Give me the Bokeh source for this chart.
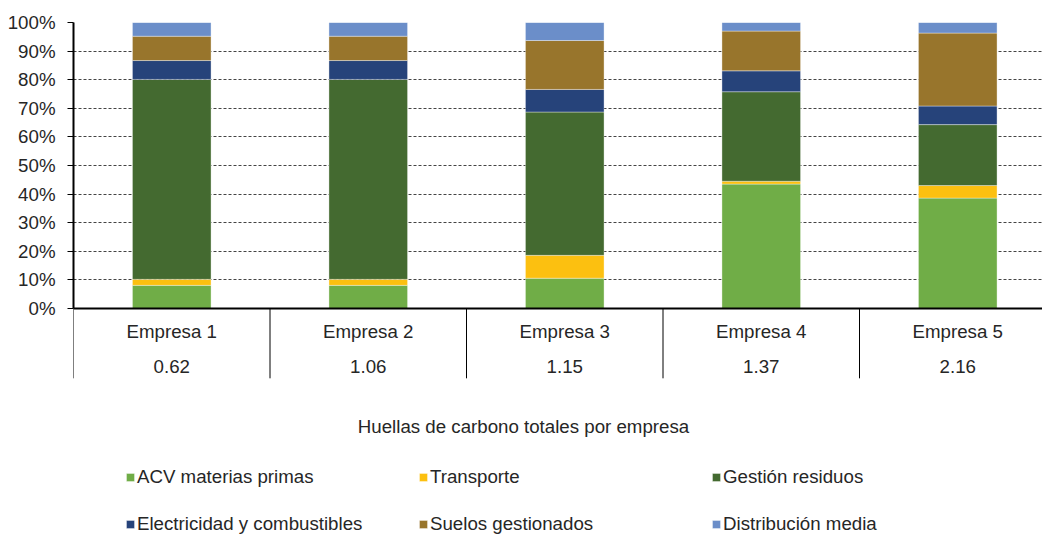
import numpy as np
from bokeh.plotting import figure
from bokeh.models import (ColumnDataSource, FixedTicker, Legend, LegendItem,
                          Span, Label, Range1d)
from bokeh.core.properties import value
from bokeh.embed import file_html
from bokeh.resources import INLINE

# ---------------- data ----------------
categories = ["Empresa 1", "Empresa 2", "Empresa 3", "Empresa 4", "Empresa 5"]
totals = ["0.62", "1.06", "1.15", "1.37", "2.16"]

acv = [8.1, 8.1, 10.6, 43.5, 38.6]
transporte = [2.1, 2.1, 8.0, 1.0, 4.4]
gestion = [69.9, 69.9, 50.1, 31.3, 21.3]
electricidad = [6.6, 6.6, 7.9, 7.3, 6.5]
suelos = [8.5, 8.5, 17.1, 13.9, 25.5]
distribucion = [4.8, 4.8, 6.3, 3.0, 3.7]

series_names = ["ACV materias primas", "Transporte", "Gestión residuos",
                "Electricidad y combustibles", "Suelos gestionados", "Distribución media"]
series_keys = ["acv", "transporte", "gestion", "electricidad", "suelos", "distribucion"]
colors = ["#70AD47", "#FCC010", "#446A30", "#26437A", "#98752C", "#6B8EC9"]

y_ticks = [0, 10, 20, 30, 40, 50, 60, 70, 80, 90, 100]
y_tick_labels = ["0%", "10%", "20%", "30%", "40%", "50%", "60%", "70%", "80%", "90%", "100%"]

axis_title = "Huellas de carbono totales por empresa"

# ---------------- style ----------------
FONT = "Liberation Sans"
TEXT = "#262626"
FS = "18.7px"

x = np.arange(len(categories)) + 0.5
src = ColumnDataSource(dict(x=x, acv=acv, transporte=transporte, gestion=gestion,
                            electricidad=electricidad, suelos=suelos,
                            distribucion=distribucion))

p = figure(width=1042, height=534,
           x_range=Range1d(0, 969 / 196.5), y_range=Range1d(-79.0, 100),
           output_backend="svg", toolbar_location=None,
           x_axis_location=None,
           min_border_left=73, min_border_right=0,
           min_border_top=22, min_border_bottom=0)
p.outline_line_color = None
p.background_fill_color = "white"

ticker = FixedTicker(ticks=y_ticks, minor_ticks=[])
ya = p.yaxis[0]
ya.ticker = ticker
ya.major_label_overrides = {t: l for t, l in zip(y_ticks, y_tick_labels)}
ya.bounds = (0, 100)
ya.axis_line_width = 2
ya.axis_line_color = "black"
ya.major_tick_line_color = "black"
ya.major_tick_out = 6
ya.major_tick_in = 0
ya.minor_tick_out = 0
ya.minor_tick_in = 0
ya.major_label_standoff = 12
ya.major_label_text_font = FONT
ya.major_label_text_font_size = FS
ya.major_label_text_color = TEXT

p.ygrid.ticker = ticker
p.ygrid.grid_line_color = "#444444"
p.ygrid.grid_line_dash = "3 2"
p.ygrid.grid_line_width = 1
p.xgrid.visible = False

renderers = p.vbar_stack(series_keys, x="x", width=0.4, color=colors, source=src,
                         line_color="white", line_width=0.6, line_alpha=0.6)

# baseline (category axis line)
p.add_layout(Span(location=0, dimension="width", line_color="black", line_width=2))

# category separators of the two-row category axis
seps = np.arange(len(categories) + 1)
p.segment(x0=seps, y0=0, x1=seps, y1=-24.4, line_color="black", line_width=1)

p.text(x=x, y=-8.1, text=categories, text_align="center", text_baseline="middle",
       text_font=value(FONT), text_font_size=value(FS), text_color=TEXT)
p.text(x=x, y=-20.2, text=totals, text_align="center", text_baseline="middle",
       text_font=value(FONT), text_font_size=value(FS), text_color=TEXT)

p.add_layout(Label(x=2.29, y=-41.4, text=axis_title, text_align="center",
                   text_baseline="middle", text_font=FONT, text_font_size=FS,
                   text_color=TEXT))

items = [LegendItem(label=n, renderers=[r]) for n, r in zip(series_names, renderers)]
legend = Legend(items=items, location=(52, -1), orientation="horizontal", ncols=3,
                glyph_width=10, glyph_height=10, label_standoff=2,
                label_width=256, label_height=16, spacing=25,
                padding=0, margin=0, border_line_color=None,
                background_fill_alpha=0,
                label_text_font=FONT, label_text_font_size=FS,
                label_text_color=TEXT)
p.add_layout(legend)

open("out.html", "w").write(file_html(p, INLINE))
